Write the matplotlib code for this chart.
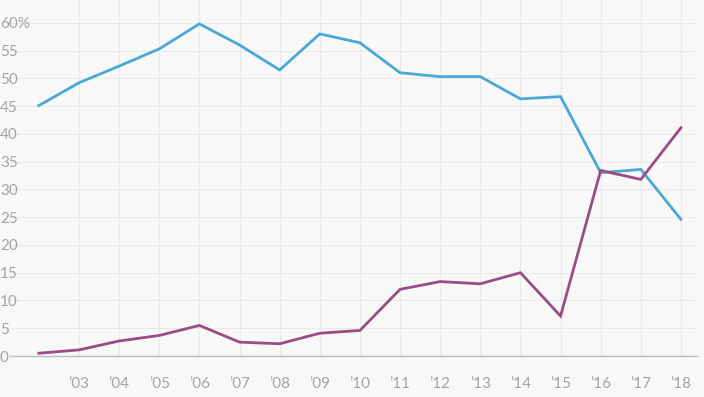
import numpy as np
import matplotlib.pyplot as plt

years = list(range(2002, 2019))
blue_vals = [45.1, 49.2, 52.2, 55.3, 59.8, 56.0, 51.5, 58.0, 56.4, 51.0,
             50.3, 50.3, 46.3, 46.7, 33.0, 33.6, 24.6]
purple_vals = [0.5, 1.1, 2.7, 3.7, 5.5, 2.5, 2.2, 4.1, 4.6, 12.0,
               13.4, 13.0, 15.0, 7.2, 33.4, 31.8, 41.1]
xtick_years = list(range(2003, 2019))
xtick_labels = ["’%02d" % (y % 100) for y in xtick_years]
ytick_vals = list(range(0, 61, 5))
ytick_labels = [str(v) for v in ytick_vals[:-1]] + ["60%"]

bg = "#f8f8f8"
plt.rcParams['font.family'] = ['Lato', 'DejaVu Sans']

fig = plt.figure(figsize=(7.04, 3.97), dpi=100, facecolor=bg)
ax = fig.add_axes([10/704, 41/397, 687/704, 356/397], facecolor=bg)

ax.plot(years, blue_vals, color="#4ba8d6", lw=2, solid_joinstyle='miter')
ax.plot(years, purple_vals, color="#9a4c84", lw=2, solid_joinstyle='miter')

ax.set_xlim(2001.28, 2018.4)
ax.set_ylim(0, 64.1)

ax.set_xticks(xtick_years)
ax.set_xticklabels(xtick_labels)
ax.set_yticks(ytick_vals)
ax.set_yticklabels(ytick_labels, ha='left')

ax.tick_params(axis='both', length=0, colors="#a3a3a3", labelsize=11)
ax.tick_params(axis='y', pad=7.2)
ax.tick_params(axis='x', pad=15)

ax.grid(True, color="#e9e9e9", lw=0.8)
ax.set_axisbelow(True)
for s in ['top', 'right', 'left']:
    ax.spines[s].set_visible(False)
ax.spines['bottom'].set_color("#bdbdbd")
ax.spines['bottom'].set_linewidth(1)

fig.savefig("out.png", dpi=100, facecolor=bg)
